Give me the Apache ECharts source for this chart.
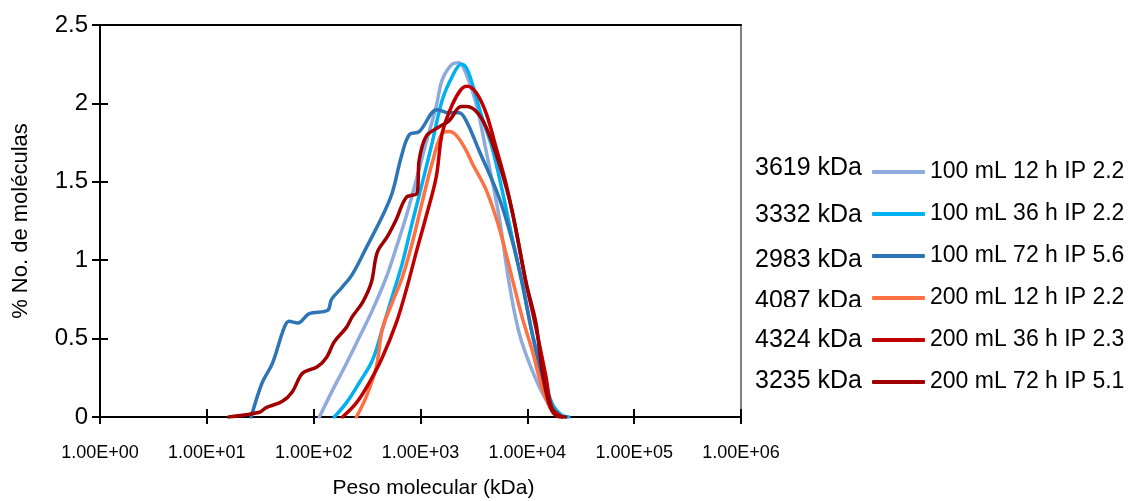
<!DOCTYPE html>
<html>
<head>
<meta charset="utf-8">
<script src="https://cdn.jsdelivr.net/npm/echarts@6/dist/echarts.min.js"></script>
<style>
html,body{margin:0;padding:0;background:#fff;overflow:hidden;}
#chart{width:1131px;height:501px;}
</style>
</head>
<body>
<div id="chart"></div>
<script>
// ---- Data ----
var seriesNames = ['100 mL 12 h IP 2.2','100 mL 36 h IP 2.2','100 mL 72 h IP 5.6','200 mL 12 h IP 2.2','200 mL 36 h IP 2.3','200 mL 72 h IP 5.1'];
var mwLabels = ['3619 kDa','3332 kDa','2983 kDa','4087 kDa','4324 kDa','3235 kDa'];
var xTickLabels = ['1.00E+00','1.00E+01','1.00E+02','1.00E+03','1.00E+04','1.00E+05','1.00E+06'];
var yTicks = [0, 0.5, 1, 1.5, 2, 2.5];

var s1x = [113,150,202,268,354,478,593,735,912,1130,1403,1596,1977,2297,2672,3313,4105,5432,6730,8350,11050,14920,18490,22920];
var s1y = [0,0.17,0.34,0.51,0.68,0.89,1.08,1.28,1.51,1.75,1.98,2.15,2.25,2.26,2.19,2.00,1.70,1.28,0.86,0.54,0.30,0.11,0.03,0];

var s2x = [156,202,268,354,439,544,675,837,1037,1286,1596,1977,2400,2672,3040,3766,4668,5794,7180,8909,11050,13690,16980,21040,24450];
var s2y = [0,0.09,0.22,0.36,0.56,0.77,0.98,1.24,1.49,1.75,2.02,2.17,2.25,2.23,2.13,1.91,1.72,1.45,1.15,0.86,0.54,0.30,0.09,0.01,0];

var s3x = [26,33,41,53,59,71,91,135,147,186,230,311,439,544,661,785,973,1432,1854,2297,2672,3533,5432,7180,8909,11050,13690,16980,21040];
var s3y = [0,0.22,0.34,0.57,0.61,0.60,0.66,0.68,0.75,0.83,0.91,1.08,1.28,1.43,1.66,1.80,1.82,1.96,1.94,1.94,1.89,1.70,1.40,1.13,0.86,0.54,0.26,0.06,0];

var s4x = [251,311,386,439,544,675,837,1037,1286,1596,1854,2202,2672,3040,4105,5432,7180,8909,11050,13690,16600,19730];
var s4y = [0,0.13,0.32,0.56,0.73,0.89,1.11,1.37,1.62,1.81,1.82,1.79,1.70,1.62,1.45,1.21,0.89,0.64,0.43,0.19,0.05,0];

var s5x = [186,251,332,439,593,735,912,1130,1403,1596,1977,2400,2728,3313,4105,5093,6310,7834,9703,12030,14920,16980,21040];
var s5y = [0,0.09,0.22,0.38,0.60,0.81,1.05,1.28,1.53,1.81,1.99,2.09,2.11,2.07,1.94,1.72,1.49,1.19,0.86,0.57,0.26,0.06,0];

var s6x = [16,31,36,51,63,79,108,132,156,202,230,286,347,394,489,593,735,931,973,1130,1496,1854,2400,2672,3313,4105,5432,7180,9703,12030,13690,15910,18490,22920];
var s6y = [0,0.03,0.06,0.10,0.16,0.28,0.32,0.38,0.48,0.57,0.64,0.73,0.86,1.05,1.15,1.26,1.40,1.43,1.64,1.79,1.85,1.89,1.98,1.98,1.95,1.85,1.62,1.32,0.86,0.60,0.30,0.09,0.01,0];

var colors = ['#8FAADC','#00B0F0','#2E75B6','#FF7043','#C00000','#A00000'];

// ---- Build ----
function pairs(xs, ys){ return xs.map(function(x,i){ return [x, ys[i]]; }); }
var allX = [s1x,s2x,s3x,s4x,s5x,s6x];
var allY = [s1y,s2y,s3y,s4y,s5y,s6y];

var FONT = 'Liberation Sans';
var chart = echarts.init(document.getElementById('chart'), null, {renderer:'canvas'});

var series = seriesNames.map(function(name, i){
  return {
    name: name,
    type: 'line',
    xAxisIndex: 0, yAxisIndex: 0,
    data: pairs(allX[i], allY[i]),
    showSymbol: false,
    symbol: 'none',
    smooth: 0.35,
    lineStyle: { color: colors[i], width: 3.5, cap: 'round', join: 'round' },
    itemStyle: { color: colors[i] },
    emphasis: { disabled: true },
    z: 2 + i
  };
});

var logAxisBase = {
  type: 'log', logBase: 10, min: 1, max: 1000000, interval: 1,
  splitLine: { show: false }, minorTick: { show: false }
};
var valAxisBase = {
  type: 'value', min: 0, max: 2.5, interval: 0.5,
  splitLine: { show: false }
};

var labelTops = [156, 203, 248, 289, 328, 369];
var graphics = mwLabels.map(function(t, i){
  return {
    type: 'text', right: 1131 - 862, top: labelTops[i],
    style: { text: t, font: '25px "' + FONT + '"', fill: '#000' },
    z: 10
  };
});
// reference clips the bottom of the 4th label
graphics.push({ type: 'rect', left: 744, top: 307, shape: { width: 122, height: 14 }, style: { fill: '#fff' }, z: 11 });

chart.setOption({
  animation: false,
  backgroundColor: '#fff',
  color: colors,
  grid: { left: 100, right: 390, top: 25, bottom: 84, containLabel: false, outerBoundsMode: 'none' },
  xAxis: [
    Object.assign({}, logAxisBase, {
      position: 'bottom',
      name: 'Peso molecular (kDa)', nameLocation: 'middle', nameGap: 61,
      nameTextStyle: { fontFamily: FONT, fontSize: 21, color: '#000', padding: [0, 0, 0, 26] },
      axisLine: { show: true, onZero: false, lineStyle: { color: '#000', width: 2 } },
      axisTick: { show: true, inside: false, length: 7, lineStyle: { color: '#000', width: 2 } },
      axisLabel: {
        show: true, margin: 27, fontFamily: FONT, fontSize: 18, color: '#000',
        formatter: function(v){ var k = Math.round(Math.log10(v)); return xTickLabels[k] || ''; }
      }
    }),
    Object.assign({}, logAxisBase, {
      position: 'bottom',
      axisLine: { show: false, onZero: false },
      axisTick: { show: true, inside: true, length: 8, lineStyle: { color: '#000', width: 2 } },
      axisLabel: { show: false }
    }),
    Object.assign({}, logAxisBase, {
      position: 'top',
      axisLine: { show: true, onZero: false, lineStyle: { color: '#000', width: 2 } },
      axisTick: { show: false }, axisLabel: { show: false }
    })
  ],
  yAxis: [
    Object.assign({}, valAxisBase, {
      position: 'left',
      name: '% No. de moléculas', nameLocation: 'middle', nameGap: 68,
      nameTextStyle: { fontFamily: FONT, fontSize: 22, color: '#000' },
      axisLine: { show: true, onZero: false, lineStyle: { color: '#000', width: 2 } },
      axisTick: { show: true, inside: false, length: 8, lineStyle: { color: '#000', width: 2 } },
      axisLabel: { show: true, margin: 12, fontFamily: FONT, fontSize: 24, color: '#000',
        formatter: function(v){ return String(v); } }
    }),
    Object.assign({}, valAxisBase, {
      position: 'left',
      axisLine: { show: false, onZero: false },
      axisTick: { show: true, inside: true, length: 8, lineStyle: { color: '#000', width: 2 } },
      axisLabel: { show: false }
    }),
    Object.assign({}, valAxisBase, {
      position: 'right',
      axisLine: { show: true, onZero: false, lineStyle: { color: '#808080', width: 2 } },
      axisTick: { show: false }, axisLabel: { show: false }
    })
  ],
  legend: {
    show: true,
    orient: 'vertical',
    left: 872, top: 159, padding: 0,
    icon: 'roundRect',
    itemWidth: 53, itemHeight: 4, itemGap: 16, itemTextGap: 7,
    textStyle: { fontFamily: FONT, fontSize: 23, color: '#000', lineHeight: 26 },
    selectedMode: false,
    data: seriesNames
  },
  graphic: graphics,
  series: series
});
</script>
</body>
</html>
